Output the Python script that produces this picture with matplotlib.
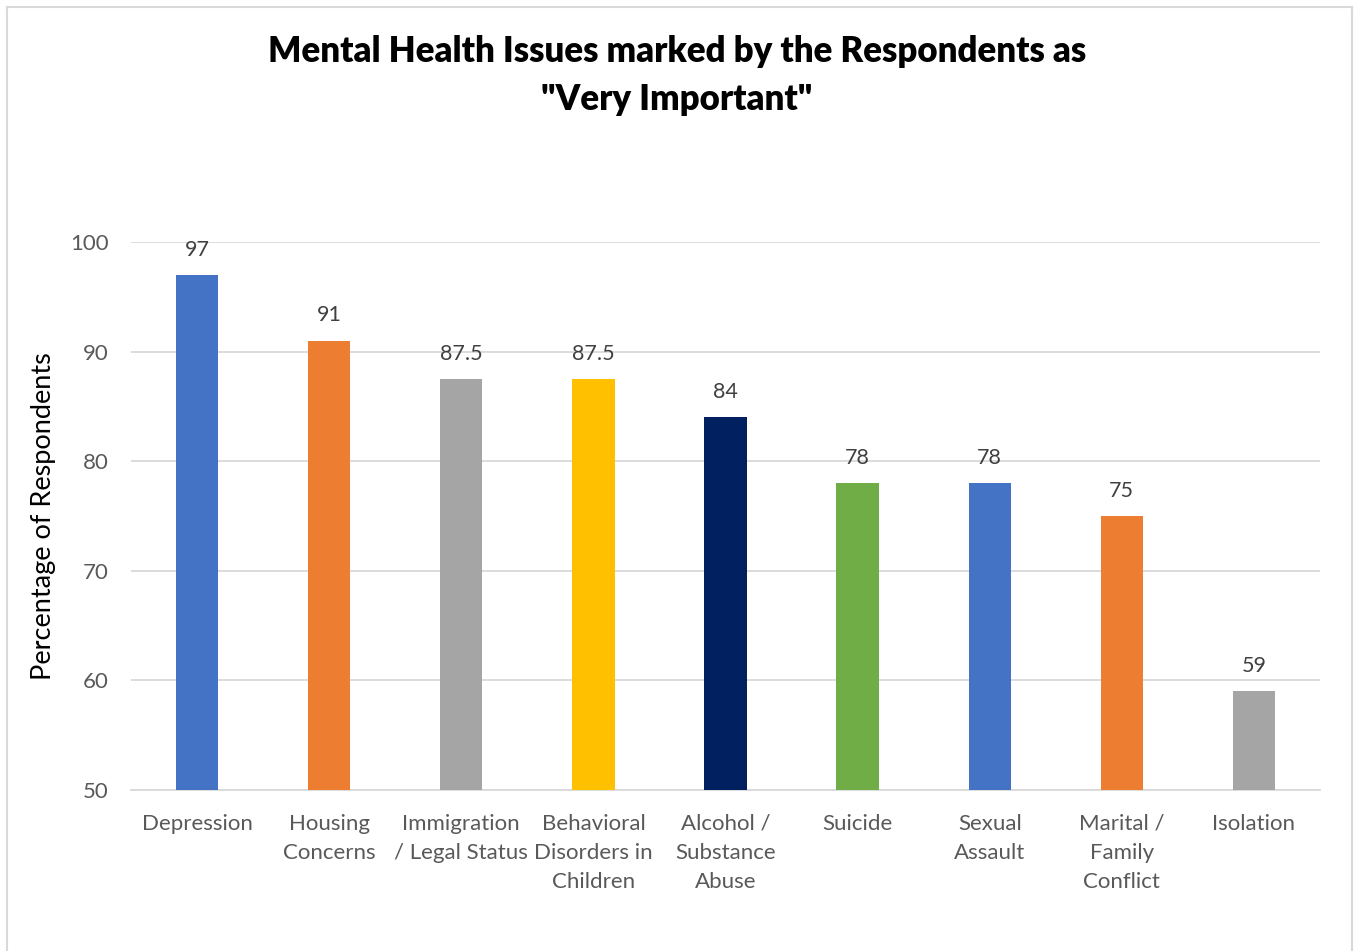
import matplotlib.pyplot as plt
from matplotlib.lines import Line2D

categories = ["Depression", "Housing\nConcerns", "Immigration\n/ Legal Status",
              "Behavioral\nDisorders in\nChildren", "Alcohol /\nSubstance\nAbuse",
              "Suicide", "Sexual\nAssault", "Marital /\nFamily\nConflict", "Isolation"]
values = [97, 91, 87.5, 87.5, 84, 78, 78, 75, 59]
value_labels = ["97", "91", "87.5", "87.5", "84", "78", "78", "75", "59"]
colors = ["#4472C4", "#ED7D31", "#A5A5A5", "#FFC000", "#002060",
          "#70AD47", "#4472C4", "#ED7D31", "#A5A5A5"]
y_ticks = [50, 60, 70, 80, 90, 100]

plt.rcParams['font.family'] = ['Lato', 'DejaVu Sans']

fig = plt.figure(figsize=(13.54, 9.51), dpi=100)
ax = fig.add_axes([131 / 1354, 161 / 951, 1189 / 1354, 548 / 951])

x = range(len(categories))
ax.bar(x, values, width=0.32, color=colors, zorder=3)
for xi, v, lab in zip(x, values, value_labels):
    ax.text(xi, v + 1.4, lab, ha='center', va='bottom', fontsize=15.5, color='#404040')

ax.set_xlim(-0.5, len(categories) - 0.5)
ax.set_ylim(50, 100)
ax.set_yticks(y_ticks)
ax.yaxis.grid(True, color='#d9d9d9', linewidth=1.3, zorder=0)
ax.set_xticks(list(x))
ax.set_xticklabels(categories, fontsize=16, color='#595959', linespacing=1.59, va='top')
ax.tick_params(axis='y', labelsize=16, labelcolor='#595959', length=0, pad=16)
ax.tick_params(axis='x', length=0, pad=17)

for side in ['top', 'right', 'left']:
    ax.spines[side].set_visible(False)
ax.spines['bottom'].set_color('#d9d9d9')
ax.spines['bottom'].set_linewidth(1.3)

ax.set_ylabel("Percentage of Respondents", fontsize=19.5, color='black', labelpad=10)

fig.text(0.5, 1 - 75.5 / 951, 'Mental Health Issues marked by the Respondents as\n"Very Important"',
         ha='center', va='center', fontsize=25, fontweight='heavy', linespacing=1.56)

# chart frame (open at the bottom edge)
fx0, fx1, fy1 = 6.5 / 1354, 1352 / 1354, 1 - 6.5 / 951
for xs, ys in [([fx0, fx0], [0, fy1]), ([fx0, fx1], [fy1, fy1]), ([fx1, fx1], [fy1, 0])]:
    fig.add_artist(Line2D(xs, ys, transform=fig.transFigure, color='#d9d9d9', linewidth=1.5))

fig.savefig('out.png', dpi=100)
